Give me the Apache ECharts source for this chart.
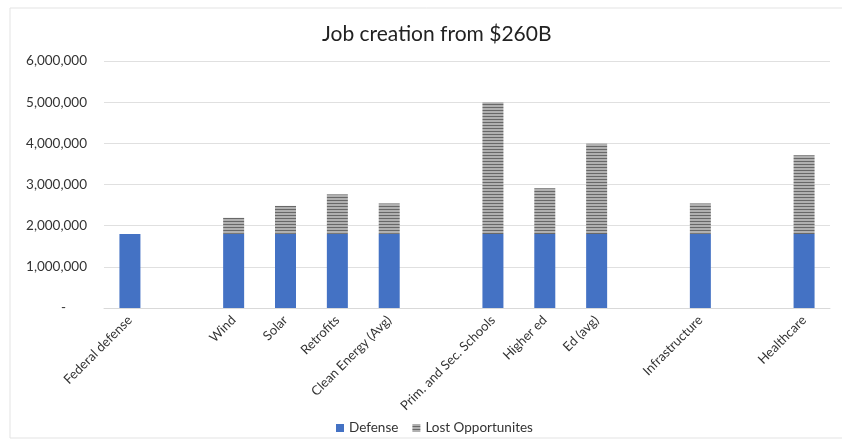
<!DOCTYPE html>
<html>
<head>
<meta charset="utf-8">
<script src="https://cdn.jsdelivr.net/npm/echarts@6/dist/echarts.min.js"></script>
<style>html,body{margin:0;padding:0;background:#fff}#c{width:842px;height:444px}</style>
</head>
<body>
<div id="c"></div>
<script>
const categories = ['Federal defense', '', 'Wind', 'Solar', 'Retrofits', 'Clean Energy (Avg)', '', 'Prim. and Sec. Schools', 'Higher ed', 'Ed (avg)', '', 'Infrastructure', '', 'Healthcare'];
const defense = [1800000, null, 1800000, 1800000, 1800000, 1800000, null, 1800000, 1800000, 1800000, null, 1800000, null, 1800000];
const lostOpportunities = [null, null, 390000, 680000, 960000, 740000, null, 3200000, 1110000, 2190000, null, 740000, null, 1910000];
const yTicks = [0, 1000000, 2000000, 3000000, 4000000, 5000000, 6000000];

const pc = document.createElement('canvas');
pc.width = 4; pc.height = 3;
const g = pc.getContext('2d');
g.fillStyle = '#b0b0b0'; g.fillRect(0, 0, 4, 3);
g.fillStyle = '#686868'; g.fillRect(0, 2, 4, 1);

const chart = echarts.init(document.getElementById('c'), null, {renderer: 'canvas'});
const font = 'Lato, "Open Sans", sans-serif';
const txt = '#333333';
chart.setOption({
  animation: false,
  textStyle: {fontFamily: font},
  graphic: [{type: 'rect', shape: {x: 10, y: 8, width: 840, height: 430}, style: {fill: 'none', stroke: '#e3e3e3', lineWidth: 1}, silent: true}],
  title: {text: 'Job creation from $260B', left: 317, top: 19, textStyle: {fontFamily: font, fontSize: 21, fontWeight: 'normal', color: '#222222'}},
  legend: {top: 416, left: 331, itemWidth: 8, itemHeight: 8, itemGap: 14, icon: 'rect', textStyle: {fontFamily: font, fontSize: 13.5, color: txt}, data: ['Defense', 'Lost Opportunites']},
  grid: {left: 104, right: 12, top: 61, bottom: 136, containLabel: false},
  xAxis: {
    type: 'category', data: categories,
    axisTick: {show: false},
    axisLine: {lineStyle: {color: '#d9d9d9'}},
    axisLabel: {interval: 0, rotate: 45, fontFamily: font, fontSize: 13, color: txt, margin: 10}
  },
  yAxis: {
    type: 'value', min: yTicks[0], max: yTicks[yTicks.length - 1], interval: 1000000,
    axisLine: {show: false}, axisTick: {show: false},
    splitLine: {lineStyle: {color: '#e0e0e0'}},
    axisLabel: {fontFamily: font, fontSize: 13.5, color: txt, margin: 17,
      formatter: v => v === 0 ? '{d|-}' : v.toLocaleString('en-US'),
      rich: {d: {fontFamily: font, fontSize: 13.5, color: txt, padding: [0, 21, 0, 0]}}}
  },
  series: [
    {name: 'Defense', type: 'bar', stack: 'a', data: defense, barWidth: 21, itemStyle: {color: '#4472c4'}},
    {name: 'Lost Opportunites', type: 'bar', stack: 'a', data: lostOpportunities, barWidth: 21, itemStyle: {color: {image: pc, repeat: 'repeat'}}}
  ]
});
</script>
</body>
</html>
